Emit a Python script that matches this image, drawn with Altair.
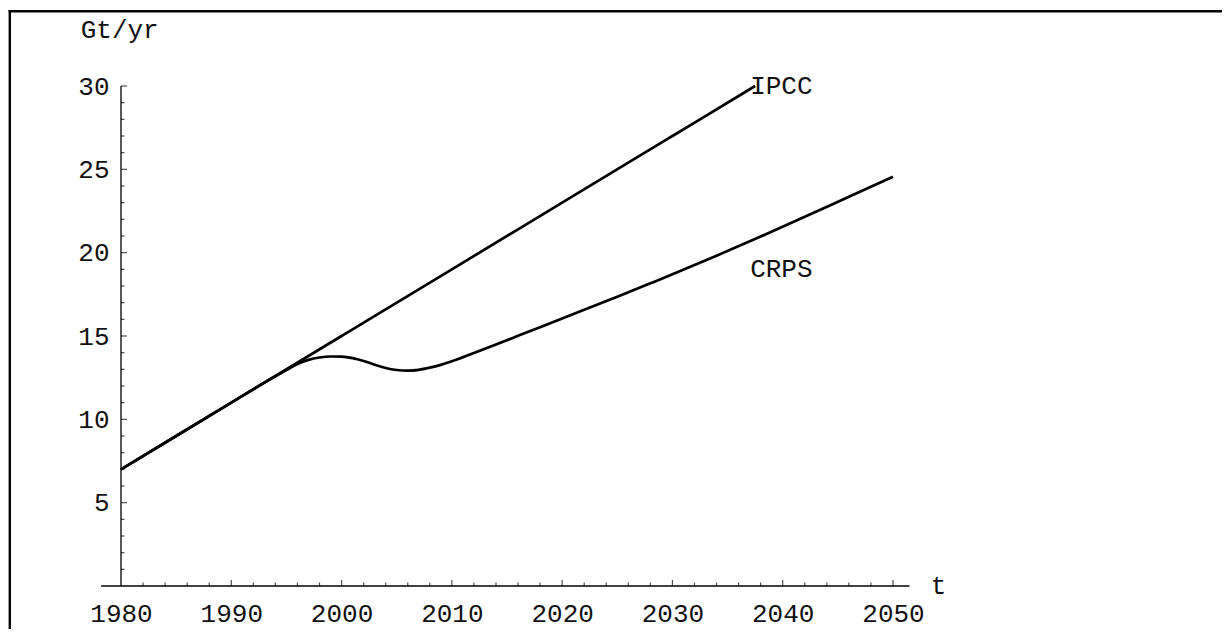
import altair as alt
import pandas as pd

# ---- data ----
ipcc_years = [1980, 1990, 2000, 2010, 2020, 2030, 2037.5]
ipcc_vals = [7.0, 11.0, 15.0, 19.0, 23.0, 27.0, 30.0]

crps_years = [1980, 1985, 1990, 1993, 1995, 1996, 1997, 1998, 1999, 2000,
              2001, 2002, 2003, 2004, 2005, 2006, 2007, 2008, 2009, 2010,
              2012, 2014, 2016, 2018, 2020, 2022, 2025, 2028, 2030, 2034,
              2038, 2042, 2046, 2050]
crps_vals = [7.0, 9.0, 11.0, 12.2, 12.95, 13.32, 13.57, 13.71, 13.77, 13.76,
             13.67, 13.5, 13.28, 13.08, 12.96, 12.92, 12.97, 13.1, 13.27, 13.48,
             13.98, 14.49, 15.01, 15.53, 16.05, 16.57, 17.36, 18.16, 18.7, 19.82,
             20.97, 22.15, 23.35, 24.55]

x_major = [1990, 2000, 2010, 2020, 2030, 2040, 2050]
x_minor = [y for y in range(1982, 2050, 2) if y % 10 != 0]
x_labels = [1980, 1990, 2000, 2010, 2020, 2030, 2040, 2050]
y_major = [5, 10, 15, 20, 25, 30]
y_minor = [v for v in range(1, 30) if v % 5 != 0]
x_axis_extent = [1978.2, 2051.5]
y_axis_extent = [0, 30]

series_labels = ["IPCC", "CRPS"]
label_x = [2037.5, 2037.5]
label_y = [30.0, 19.0]

FONT = "Liberation Mono"
FS = 26
INK = "#111111"

lines_df = pd.concat([
    pd.DataFrame({"t": ipcc_years, "v": ipcc_vals, "s": "IPCC"}),
    pd.DataFrame({"t": crps_years, "v": crps_vals, "s": "CRPS"}),
])

xs = alt.Scale(domain=[1980, 2050], nice=False, zero=False)
ys = alt.Scale(domain=[0, 30], nice=False, zero=False)

x_axis = alt.Axis(values=x_labels, domain=False, ticks=False, tickSize=0, grid=False,
                  labelFont=FONT, labelFontSize=FS, labelColor=INK,
                  labelPadding=27, labelBaseline="middle", labelFlush=False,
                  labelOverlap=False, format="d",
                  title="t", titleFont=FONT, titleFontSize=FS, titleFontWeight="normal",
                  titleColor=INK, titleX=817, titleY=-1, titleAlign="center",
                  titleBaseline="middle")
y_axis = alt.Axis(values=y_major, domain=False, ticks=False, tickSize=0, grid=False,
                  labelFont=FONT, labelFontSize=FS, labelColor=INK,
                  labelPadding=12, labelFlush=False, labelOverlap=False,
                  title="Gt/yr", titleFont=FONT, titleFontSize=FS, titleFontWeight="normal",
                  titleColor=INK, titleAngle=0, titleX=-40.8, titleY=-57,
                  titleAlign="left", titleBaseline="middle")

lines = alt.Chart(lines_df).mark_line(color="black", strokeWidth=2.7, interpolate="monotone").encode(
    x=alt.X("t:Q", scale=xs, axis=x_axis),
    y=alt.Y("v:Q", scale=ys, axis=y_axis),
    detail="s:N",
)

xaxis_line = alt.Chart(pd.DataFrame({"t": [x_axis_extent[0]], "b": [x_axis_extent[1]], "v": [0]})).mark_rule(
    color="black", strokeWidth=1.3).encode(
    x=alt.X("t:Q"), x2="b:Q", y=alt.Y("v:Q"))

yaxis_line = alt.Chart(pd.DataFrame({"t": [1980], "v": [y_axis_extent[0]], "b": [y_axis_extent[1]]})).mark_rule(
    color="black", strokeWidth=1.3).encode(
    x=alt.X("t:Q"), y=alt.Y("v:Q"), y2="b:Q")

def xticks(vals, size):
    return alt.Chart(pd.DataFrame({"t": vals, "v": 0})).mark_tick(
        color="black", orient="vertical", size=size, thickness=1.2, yOffset=-size / 2).encode(
        x=alt.X("t:Q"), y=alt.Y("v:Q"))

def yticks(vals, size):
    return alt.Chart(pd.DataFrame({"v": vals, "t": 1980})).mark_tick(
        color="black", orient="horizontal", size=size, thickness=1.2, xOffset=size / 2).encode(
        y=alt.Y("v:Q"), x=alt.X("t:Q"))

labels = alt.Chart(pd.DataFrame({"t": label_x, "v": label_y, "txt": series_labels})).mark_text(
    font=FONT, fontSize=FS, color=INK, align="left", baseline="middle", dx=-5).encode(
    x=alt.X("t:Q"), y=alt.Y("v:Q"), text="txt:N")

one = pd.DataFrame({"k": [0]})
frame_left = alt.Chart(one).mark_rule(color="black", strokeWidth=2.4).encode(
    x=alt.value(-111.2), y=alt.value(-76), y2=alt.value(3000))
frame_top = alt.Chart(one).mark_rule(color="black", strokeWidth=2.4).encode(
    y=alt.value(-74.8), x=alt.value(-112.4), x2=alt.value(3000))

chart = alt.layer(
    lines, frame_left, frame_top, xaxis_line, yaxis_line,
    xticks(x_major, 6), xticks(x_minor, 3.5),
    yticks(y_major, 6), yticks(y_minor, 3.5),
    labels,
).properties(
    width=772, height=500,
    padding={"left": 113, "top": 78, "right": 329, "bottom": 43},
    autosize=alt.AutoSizeParams(type="none"),
    background="white",
).configure_view(stroke=None)

chart.save("out.html", embed_options={"renderer": "svg", "actions": False})
